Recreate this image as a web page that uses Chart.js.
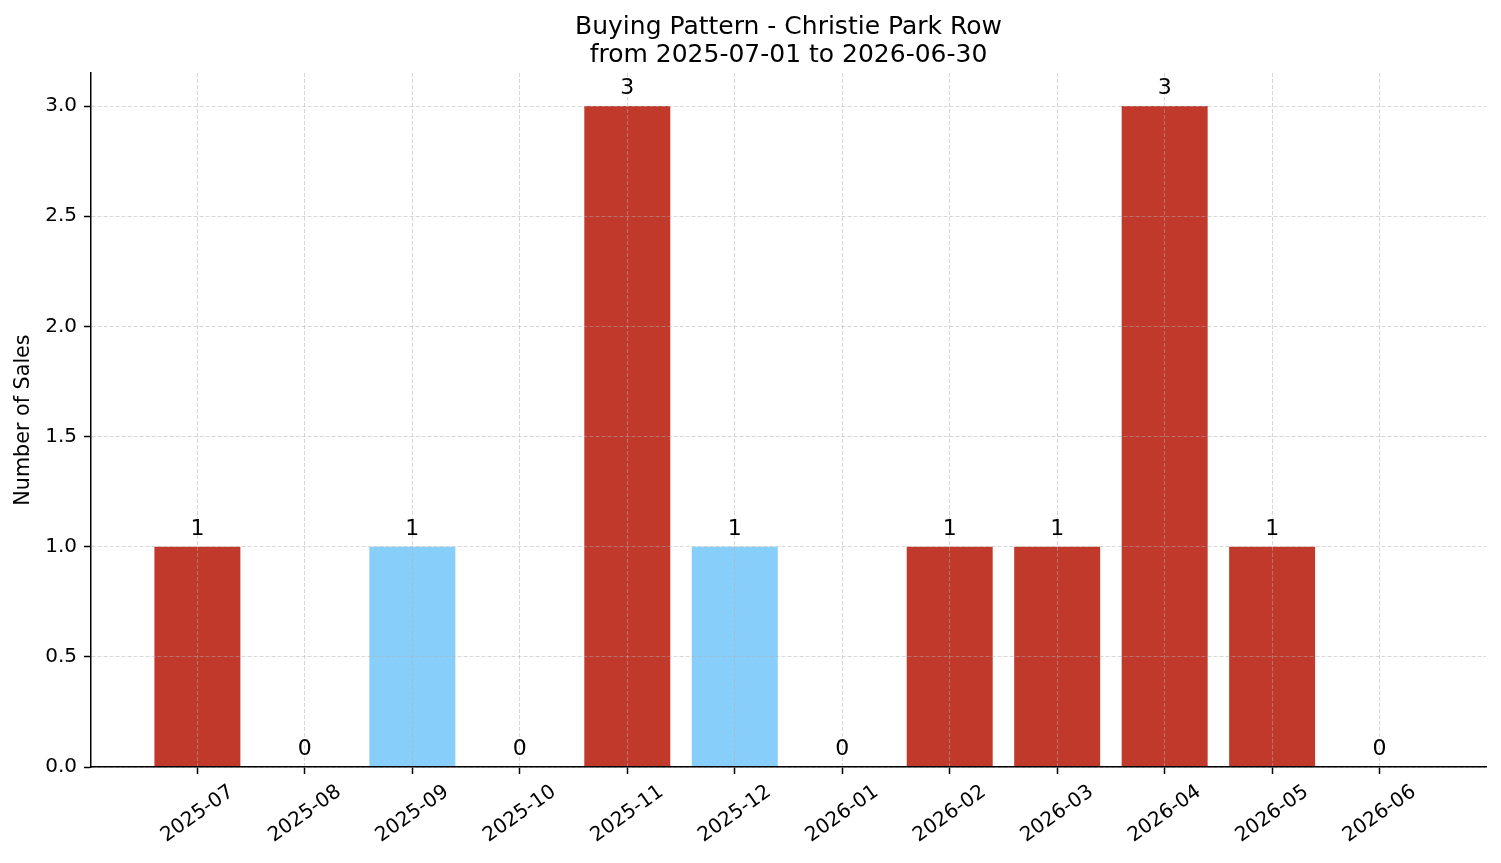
<!DOCTYPE html>
<html>
<head>
<meta charset="utf-8">
<title>Buying Pattern - Christie Park Row</title>
<script src="https://cdn.jsdelivr.net/npm/chart.js@4.4.1/dist/chart.umd.min.js"></script>
<style>
  html, body { margin: 0; padding: 0; background: #ffffff; }
  canvas { display: block; }
</style>
</head>
<body>
<canvas id="salesChart" width="1501" height="863"></canvas>
<script>
const months = ['2025-07', '2025-08', '2025-09', '2025-10', '2025-11', '2025-12',
                '2026-01', '2026-02', '2026-03', '2026-04', '2026-05', '2026-06'];
const sales = [1, 0, 1, 0, 3, 1, 0, 1, 1, 3, 1, 0];
const yTicks = [0, 0.5, 1.0, 1.5, 2.0, 2.5, 3.0];

const RED = '#c0392b';
const BLUE = '#87cefa';
const barColors = [RED, RED, BLUE, RED, RED, BLUE, RED, RED, RED, RED, RED, RED];

const FONT = '"DejaVu Sans", sans-serif';
const gridColor = 'rgba(176,176,176,0.5)';

// value labels above bars + rotated month labels (centered like matplotlib)
const labelPlugin = {
    id: 'barLabels',
    afterDraw(chart) {
        const ctx = chart.ctx;
        const meta = chart.getDatasetMeta(0);
        const xScale = chart.scales.x;
        ctx.save();
        ctx.fillStyle = '#000';
        ctx.textAlign = 'center';
        ctx.font = '22px ' + FONT;
        ctx.textBaseline = 'alphabetic';
        meta.data.forEach((bar, i) => {
            ctx.fillText(String(sales[i]), bar.x, bar.y - 12);
        });
        ctx.font = '20px ' + FONT;
        ctx.textBaseline = 'middle';
        months.forEach((m, i) => {
            const x = xScale.getPixelForValue(i);
            ctx.save();
            ctx.translate(x, xScale.top + 47);
            ctx.rotate(-35 * Math.PI / 180);
            ctx.fillText(m, 0, 0);
            ctx.restore();
        });
        ctx.restore();
    }
};

const ctx = document.getElementById('salesChart').getContext('2d');
const chart = new Chart(ctx, {
    type: 'bar',
    data: {
        datasets: [{
            label: 'Sales',
            data: sales.map((v, i) => ({ x: i, y: v })),
            backgroundColor: barColors,
            borderWidth: 0,
            categoryPercentage: 1.0,
            barPercentage: 0.8
        }]
    },
    options: {
        responsive: false,
        animation: false,
        devicePixelRatio: 1,
        layout: { padding: { left: 0, right: 15, top: 0, bottom: 0 } },
        scales: {
            x: {
                type: 'linear',
                min: -0.99,
                max: 11.99,
                offset: false,
                afterBuildTicks: (scale) => {
                    scale.ticks = months.map((_, i) => ({ value: i }));
                },
                afterFit: (scale) => { scale.height = 96; },
                ticks: { display: false },
                grid: {
                    offset: false,
                    color: gridColor,
                    lineWidth: 1,
                    z: 1,
                    drawTicks: true,
                    tickLength: 7,
                    tickColor: '#000',
                    tickWidth: 1.5
                },
                border: { display: true, color: '#000', width: 1.5, dash: [4, 2], z: 2 }
            },
            y: {
                type: 'linear',
                min: 0,
                max: 3.15,
                afterBuildTicks: (scale) => {
                    scale.ticks = yTicks.map(v => ({ value: v }));
                },
                afterFit: (scale) => { scale.width = 91; },
                ticks: {
                    color: '#000',
                    padding: 7,
                    font: { family: FONT, size: 20 },
                    callback: (v) => Number(v).toFixed(1)
                },
                grid: {
                    color: gridColor,
                    lineWidth: 1,
                    z: 1,
                    drawTicks: true,
                    tickLength: 7,
                    tickColor: '#000',
                    tickWidth: 1.5
                },
                border: { display: true, color: '#000', width: 1.5, dash: [4, 2], z: 2 },
                title: {
                    display: true,
                    text: 'Number of Sales',
                    color: '#000',
                    font: { family: FONT, size: 20.7 },
                    padding: { top: 11, bottom: 0 }
                }
            }
        },
        plugins: {
            legend: { display: false },
            tooltip: { enabled: false },
            title: {
                display: true,
                fullSize: false,
                text: ['Buying Pattern - Christie Park Row', 'from 2025-07-01 to 2026-06-30'],
                color: '#000',
                font: { family: FONT, size: 25, weight: 'normal', lineHeight: 1.12 },
                padding: { top: 13, bottom: 4 }
            }
        }
    },
    plugins: [labelPlugin]
});
</script>
</body>
</html>
